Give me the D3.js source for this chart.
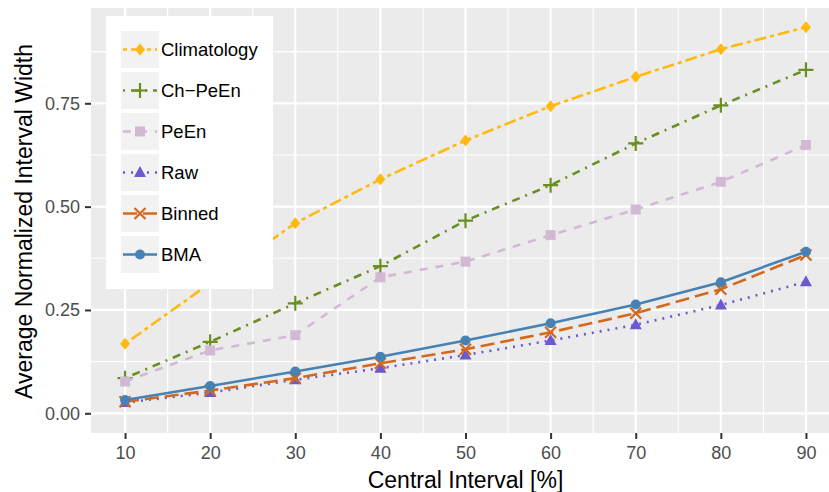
<!DOCTYPE html>
<html>
<head>
<meta charset="utf-8">
<script src="https://cdn.jsdelivr.net/npm/d3@7"></script>
<style>
  body { margin: 0; background: #fff; }
  svg { display: block; font-family: "Liberation Sans", Arial, sans-serif; }
</style>
</head>
<body>
<div id="chart"></div>
<script>
// data
const intervals = [10, 20, 30, 40, 50, 60, 70, 80, 90];
const climatology = [0.168, 0.315, 0.460, 0.566, 0.660, 0.743, 0.814, 0.881, 0.934];
const chPeEn = [0.085, 0.173, 0.266, 0.356, 0.466, 0.552, 0.653, 0.745, 0.831];
const peEn = [0.077, 0.152, 0.189, 0.329, 0.367, 0.431, 0.493, 0.560, 0.649];
const raw = [0.026, 0.050, 0.081, 0.109, 0.141, 0.176, 0.214, 0.262, 0.318];
const binned = [0.028, 0.055, 0.085, 0.121, 0.155, 0.196, 0.242, 0.300, 0.383];
const bma = [0.032, 0.066, 0.101, 0.137, 0.176, 0.218, 0.263, 0.317, 0.391];
const seriesNames = ["Climatology", "Ch\u2212PeEn", "PeEn", "Raw", "Binned", "BMA"];
const yTicks = [0, 0.25, 0.5, 0.75];

const seriesValues = [climatology, chPeEn, peEn, raw, binned, bma];
const styles = [
  { color: "#FFB90F", dash: "4,4,12,4", shape: "diamond" },
  { color: "#6B8E23", dash: "2,6,8,6", shape: "plus" },
  { color: "#D2B9D3", dash: "8,8", shape: "square" },
  { color: "#6A5ACD", dash: "2,6", shape: "triangle" },
  { color: "#D2691E", dash: "14,6", shape: "cross" },
  { color: "#4682B4", dash: null, shape: "circle" }
];

const width = 829, height = 492;
const panel = { left: 91, top: 8, right: 840, bottom: 433 };

const svg = d3.select("#chart").append("svg")
  .attr("width", width)
  .attr("height", height);

const x = d3.scaleLinear().domain([6, 94]).range([panel.left, panel.right]);
const y = d3.scaleLinear().domain([-0.0477, 0.9806]).range([panel.bottom, panel.top]);

// panel background
svg.append("rect")
  .attr("x", panel.left).attr("y", panel.top)
  .attr("width", panel.right - panel.left).attr("height", panel.bottom - panel.top)
  .attr("fill", "#EBEBEB");

// minor grid
const xMinor = d3.range(15, 90, 10);
const yMinor = [0.125, 0.375, 0.625, 0.875];
svg.append("g").selectAll("line").data(xMinor).join("line")
  .attr("x1", d => x(d)).attr("x2", d => x(d))
  .attr("y1", panel.top).attr("y2", panel.bottom)
  .attr("stroke", "#fff").attr("stroke-width", 1.1);
svg.append("g").selectAll("line").data(yMinor).join("line")
  .attr("y1", d => y(d)).attr("y2", d => y(d))
  .attr("x1", panel.left).attr("x2", panel.right)
  .attr("stroke", "#fff").attr("stroke-width", 1.1);

// major grid
svg.append("g").selectAll("line").data(intervals).join("line")
  .attr("x1", d => x(d)).attr("x2", d => x(d))
  .attr("y1", panel.top).attr("y2", panel.bottom)
  .attr("stroke", "#fff").attr("stroke-width", 2.2);
svg.append("g").selectAll("line").data(yTicks).join("line")
  .attr("y1", d => y(d)).attr("y2", d => y(d))
  .attr("x1", panel.left).attr("x2", panel.right)
  .attr("stroke", "#fff").attr("stroke-width", 2.2);

// axes
const xAxis = svg.append("g")
  .attr("transform", `translate(0,${panel.bottom})`)
  .call(d3.axisBottom(x).tickValues(intervals).tickSize(6).tickPadding(7).tickFormat(d3.format("d")));
const yAxis = svg.append("g")
  .attr("transform", `translate(${panel.left},0)`)
  .call(d3.axisLeft(y).tickValues(yTicks).tickSize(6).tickPadding(5).tickFormat(d3.format(".2f")));
[xAxis, yAxis].forEach(ax => {
  ax.select(".domain").remove();
  ax.selectAll(".tick line").attr("stroke", "#333").attr("stroke-width", 2);
  ax.selectAll(".tick text").attr("fill", "#4D4D4D").style("font-size", "18px");
});

svg.append("text")
  .attr("x", (panel.left + panel.right) / 2).attr("y", 488)
  .attr("text-anchor", "middle")
  .style("font-size", "23px")
  .text("Central Interval [%]");
svg.append("text")
  .attr("transform", `translate(32,${(panel.top + panel.bottom) / 2 + 1}) rotate(-90)`)
  .attr("text-anchor", "middle")
  .style("font-size", "23px")
  .text("Average Normalized Interval Width");

// point shapes
function drawShape(g, shape, color) {
  if (shape === "diamond") {
    g.append("path").attr("d", "M0,-6L5,0L0,6L-5,0Z").attr("fill", color);
  } else if (shape === "plus") {
    g.append("path").attr("d", "M-7.5,0H7.5M0,-7.5V7.5").attr("stroke", color).attr("stroke-width", 2.2).attr("fill", "none");
  } else if (shape === "square") {
    g.append("rect").attr("x", -5).attr("y", -5).attr("width", 10).attr("height", 10).attr("fill", color);
  } else if (shape === "triangle") {
    g.append("path").attr("d", "M0,-6.5L6,4.5H-6Z").attr("fill", color);
  } else if (shape === "cross") {
    g.append("path").attr("d", "M-5.5,-5.5L5.5,5.5M-5.5,5.5L5.5,-5.5").attr("stroke", color).attr("stroke-width", 2.2).attr("fill", "none");
  } else {
    g.append("circle").attr("r", 5).attr("fill", color);
  }
}

const line = d3.line().x(d => x(d.x)).y(d => y(d.y));
const plot = svg.append("g");
seriesValues.forEach((vals, i) => {
  const st = styles[i];
  const pts = vals.map((v, j) => ({ x: intervals[j], y: v }));
  plot.append("path").datum(pts)
    .attr("d", line)
    .attr("fill", "none")
    .attr("stroke", st.color)
    .attr("stroke-width", 2.6)
    .attr("stroke-dasharray", st.dash);
  pts.forEach(p => {
    const g = plot.append("g").attr("transform", `translate(${x(p.x)},${y(p.y)})`);
    drawShape(g, st.shape, st.color);
  });
});

// legend
const legend = svg.append("g");
legend.append("rect")
  .attr("x", 106).attr("y", 16).attr("width", 167).attr("height", 273)
  .attr("fill", "#fff");
seriesNames.forEach((name, i) => {
  const st = styles[i];
  const ky = 31 + i * 41;
  legend.append("rect").attr("x", 121).attr("y", ky).attr("width", 38).attr("height", 37).attr("fill", "#F2F2F2");
  legend.append("line")
    .attr("x1", 123).attr("x2", 157).attr("y1", ky + 18.5).attr("y2", ky + 18.5)
    .attr("stroke", st.color).attr("stroke-width", 2.6)
    .attr("stroke-dasharray", st.dash);
  const g = legend.append("g").attr("transform", `translate(140,${ky + 18.5})`);
  drawShape(g, st.shape, st.color);
  legend.append("text")
    .attr("x", 161).attr("y", ky + 18.5).attr("dy", "0.35em")
    .style("font-size", "18.5px")
    .text(name);
});
</script>
</body>
</html>
